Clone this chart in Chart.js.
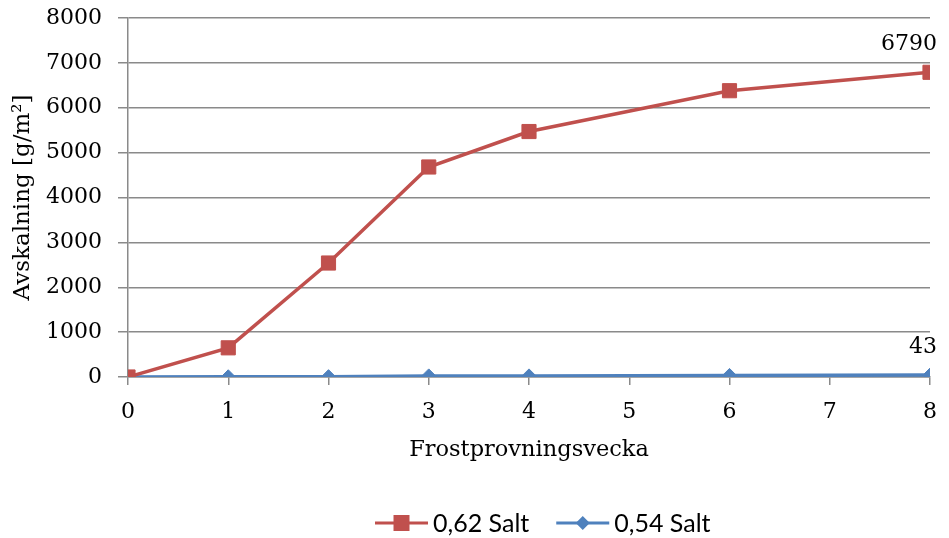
<!DOCTYPE html>
<html>
<head>
<meta charset="utf-8">
<script src="https://cdn.jsdelivr.net/npm/chart.js@4"></script>
<style>
  html, body { margin: 0; padding: 0; background: #fff; }
  #wrap { width: 949px; height: 538px; }
</style>
</head>
<body>
<div id="wrap"><canvas id="c" width="949" height="538"></canvas></div>
<script>
// Frost-scaling test: scaling mass per week
const weeks = [0, 1, 2, 3, 4, 6, 8];
const salt062 = [0, 650, 2540, 4680, 5470, 6380, 6790];
const salt054 = [0, 5, 8, 25, 25, 35, 43];
const seriesNames = ['0,62 Salt', '0,54 Salt'];
const yTicks = [0, 1000, 2000, 3000, 4000, 5000, 6000, 7000, 8000];
const xTicks = [0, 1, 2, 3, 4, 5, 6, 7, 8];

const RED = '#C0504D';
const BLUE = '#4F81BD';
const GRID = '#8a8a8a';
const SERIF = "'DejaVu Serif', 'Liberation Serif', serif";
const SANS = "Lato, 'Open Sans', sans-serif";

// Labels the last point of each series with its value
const endLabels = {
  id: 'endLabels',
  afterDatasetsDraw(chart) {
    const ctx = chart.ctx;
    ctx.save();
    ctx.font = '22px ' + SERIF;
    ctx.fillStyle = '#000';
    ctx.textAlign = 'right';
    ctx.textBaseline = 'middle';
    chart.data.datasets.forEach((ds, i) => {
      const meta = chart.getDatasetMeta(i);
      const last = meta.data[meta.data.length - 1];
      const v = ds.data[ds.data.length - 1].y;
      ctx.fillText(String(v), last.x + 7, last.y - 28);
    });
    ctx.restore();
  }
};

// Legend drawn as line + marker swatches below the axis title
const lineLegend = {
  id: 'lineLegend',
  afterDraw(chart) {
    const ctx = chart.ctx;
    ctx.save();
    ctx.font = '25px ' + SANS;
    ctx.textBaseline = 'middle';
    const y = 523;
    const segW = 53, gap = 5, itemGap = 27;
    let x = 375;
    chart.data.datasets.forEach(ds => {
      ctx.strokeStyle = ds.borderColor;
      ctx.lineWidth = 3;
      ctx.beginPath();
      ctx.moveTo(x, y);
      ctx.lineTo(x + segW, y);
      ctx.stroke();
      const cx = x + segW / 2;
      ctx.fillStyle = ds.pointBackgroundColor;
      ctx.beginPath();
      if (ds.pointStyle === 'rect') {
        ctx.rect(cx - 8, y - 8, 16, 16);
      } else {
        ctx.moveTo(cx, y - 7);
        ctx.lineTo(cx + 7, y);
        ctx.lineTo(cx, y + 7);
        ctx.lineTo(cx - 7, y);
        ctx.closePath();
      }
      ctx.fill();
      ctx.fillStyle = '#000';
      ctx.textAlign = 'left';
      ctx.fillText(ds.label, x + segW + gap, y + 1);
      x += segW + gap + ctx.measureText(ds.label).width + itemGap;
    });
    ctx.restore();
  }
};

const toPoints = (xs, ys) => xs.map((x, i) => ({ x, y: ys[i] }));
const plain = v => String(v);

new Chart(document.getElementById('c'), {
  type: 'line',
  data: {
    datasets: [
      {
        label: seriesNames[0],
        data: toPoints(weeks, salt062),
        borderColor: RED,
        backgroundColor: RED,
        pointBackgroundColor: RED,
        pointBorderColor: RED,
        borderWidth: 3.5,
        pointStyle: 'rect',
        pointRadius: 10,
        pointBorderWidth: 1,
        tension: 0
      },
      {
        label: seriesNames[1],
        data: toPoints(weeks, salt054),
        borderColor: BLUE,
        backgroundColor: BLUE,
        pointBackgroundColor: BLUE,
        pointBorderColor: BLUE,
        borderWidth: 3.5,
        pointStyle: 'rectRot',
        pointRadius: 7,
        pointBorderWidth: 1,
        tension: 0
      }
    ]
  },
  options: {
    responsive: false,
    animation: false,
    devicePixelRatio: 1,
    layout: { padding: { top: 18, right: 19, bottom: 66, left: 0 } },
    plugins: {
      legend: { display: false },
      tooltip: { enabled: false }
    },
    scales: {
      x: {
        type: 'linear',
        min: 0,
        max: 8,
        afterBuildTicks(scale) { scale.ticks = xTicks.map(v => ({ value: v })); },
        afterFit(scale) {
          scale.height = 95;
          scale.paddingLeft = 0;
          scale.paddingRight = 0;
        },
        grid: {
          drawOnChartArea: false,
          drawTicks: true,
          tickLength: 8,
          color: GRID,
          lineWidth: 1.5
        },
        border: { display: true, color: GRID, width: 1.5 },
        ticks: {
          color: '#000',
          font: { family: SERIF, size: 22 },
          padding: 14,
          maxRotation: 0,
          callback: plain
        },
        title: {
          display: true,
          text: 'Frostprovningsvecka',
          color: '#000',
          font: { family: SERIF, size: 22.5 },
          padding: { top: 4, bottom: 8 }
        }
      },
      y: {
        min: 0,
        max: 8000,
        afterBuildTicks(scale) { scale.ticks = yTicks.map(v => ({ value: v })); },
        afterFit(scale) {
          scale.width = 128;
          scale.paddingTop = 0;
          scale.paddingBottom = 0;
        },
        grid: {
          drawTicks: true,
          tickLength: 10,
          color: GRID,
          lineWidth: 1.5
        },
        border: { display: true, color: GRID, width: 1.5 },
        ticks: {
          color: '#000',
          font: { family: SERIF, size: 22 },
          padding: 16,
          callback: plain
        },
        title: {
          display: true,
          text: 'Avskalning [g/m²]',
          color: '#000',
          font: { family: SERIF, size: 23 },
          padding: { top: 9, bottom: 4 }
        }
      }
    }
  },
  plugins: [endLabels, lineLegend]
});
</script>
</body>
</html>
